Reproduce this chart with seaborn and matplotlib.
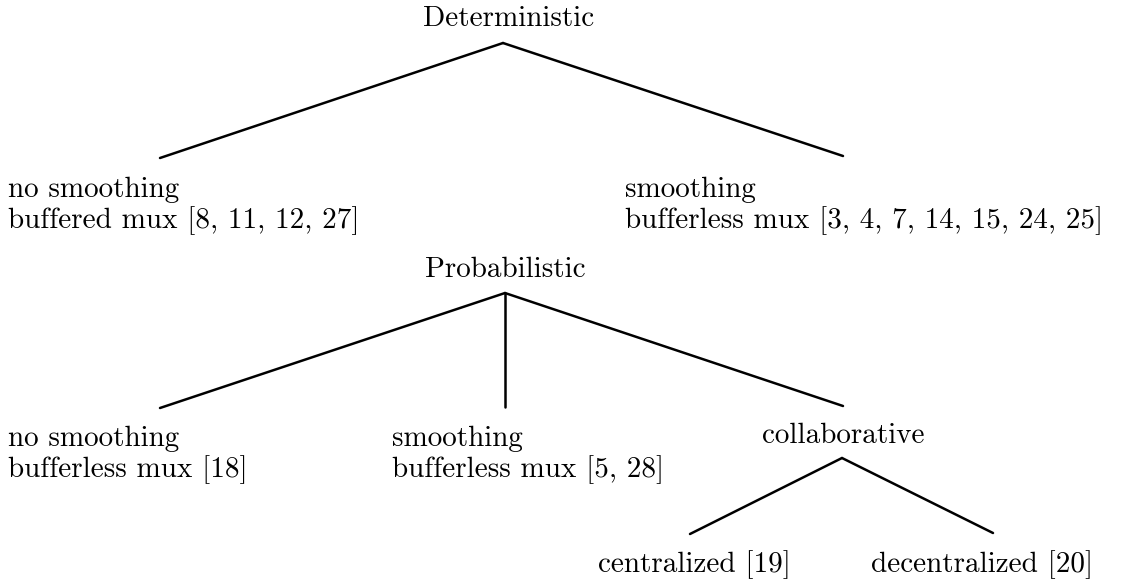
import matplotlib
matplotlib.use("Agg")
from matplotlib import pyplot as plt
from pandas import DataFrame
import seaborn as sns


# tree content: each node is a list of text lines, plus the index of its parent
labels = [
    ["Deterministic"],
    ["no smoothing", "buffered mux [8, 11, 12, 27]"],
    ["smoothing", "bufferless mux [3, 4, 7, 14, 15, 24, 25]"],
    ["Probabilistic"],
    ["no smoothing", "bufferless mux [18]"],
    ["smoothing", "bufferless mux [5, 28]"],
    ["collaborative"],
    ["centralized [19]"],
    ["decentralized [20]"],
]
parents = [None, 0, 0, None, 3, 3, 3, 6, 6]

# layout in pixel space (y grows downwards)
text_x = [509, 8, 625, 505, 8, 392, 843, 598, 1093]
text_y = [26, 197, 197, 277, 446, 446, 443, 572, 572]
text_ha = ["center", "left", "left", "center", "left", "left", "center", "left", "right"]
apex = {0: (503, 43), 3: (505, 293), 6: (842, 458)}
ends = [None, (160, 158), (843, 156), None, (160, 408), (505, 407),
        (843, 406), (690, 534), (993, 533)]
line_gap = 31

W, H = 1123, 579

sns.set_theme(style="white")
plt.rcParams["font.family"] = "cmr10"
plt.rcParams["axes.unicode_minus"] = False
plt.rcParams["mathtext.fontset"] = "cm"

rows = []
for i, p in enumerate(parents):
    if p is None:
        continue
    ax0, ay0 = apex[p]
    ex, ey = ends[i]
    rows.append({"edge": i, "x": ax0, "y": ay0})
    rows.append({"edge": i, "x": ex, "y": ey})
edges = DataFrame(rows)

fig = plt.figure(figsize=(W / 100, H / 100), dpi=100)
ax = fig.add_axes([0, 0, 1, 1])

sns.lineplot(data=edges, x="x", y="y", units="edge", estimator=None,
             sort=False, color="black", linewidth=1.8, ax=ax)

for i, lines in enumerate(labels):
    for k, line in enumerate(lines):
        ax.text(text_x[i], text_y[i] + k * line_gap, line, ha=text_ha[i],
                va="baseline", fontsize=21, color="black")

ax.set_xlim(0, W)
ax.set_ylim(H, 0)
ax.set_axis_off()

fig.savefig("out.png", dpi=100, facecolor="white")
